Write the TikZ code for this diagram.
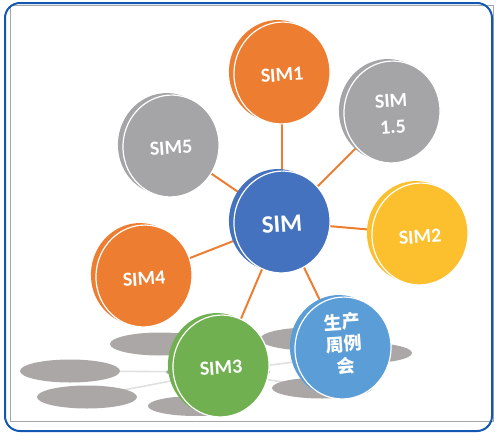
\documentclass[tikz,border=0pt]{standalone}
\usepackage{fontspec}
\setmainfont{Carlito}
\newfontfamily\cjk{Noto Sans CJK SC}
\definecolor{corange}{RGB}{237,125,49}
\definecolor{cgray}{RGB}{165,165,167}
\definecolor{cblue}{RGB}{68,114,190}
\definecolor{cyellow}{RGB}{252,191,45}
\definecolor{cgreen}{RGB}{112,176,80}
\definecolor{clblue}{RGB}{91,157,214}
\definecolor{cshadow}{RGB}{172,167,167}
\definecolor{cframe}{RGB}{18,88,178}
\definecolor{clink}{RGB}{224,224,224}
\tikzset{
  conn/.style={draw=corange, line width=2pt},
  slink/.style={draw=clink, line width=1.6pt},
  shad/.style={fill=cshadow},
  lbl/.style={text=white, font=\bfseries\fontsize{20}{22}\selectfont, align=center, rotate=4},
}
\newcommand{\coin}[3]{%
  \fill[#3] ($(#1)+(-5,-2)$) ellipse [x radius=48, y radius=51, rotate=-8];
  \filldraw[fill=#3, draw=white, line width=1.2pt] (#1) ellipse [x radius=48, y radius=51, rotate=-8];
}
\usetikzlibrary{calc}
\begin{document}
\begin{tikzpicture}[x=1pt,y=-1pt]
\useasboundingbox (0,0) rectangle (500,439);
% frame
\draw[draw=gray!70, line width=0.9pt] (10.5,5) rectangle (493,421);
\draw[draw=cframe, line width=2pt, rounded corners=15pt] (5,3) rectangle (492,431);
% coordinates
\coordinate (c) at (282,222);
\coordinate (c1) at (282,73);
\coordinate (c15) at (392,112);
\coordinate (c5) at (171,146);
\coordinate (c2) at (420,234);
\coordinate (c4) at (144,276);
\coordinate (c3) at (221,366);
\coordinate (c6) at (343,348);
% shadow reflections
\coordinate (e1) at (160,344);
\coordinate (e2) at (70,371);
\coordinate (e3) at (87,397);
\coordinate (e4) at (196,406);
\coordinate (e5) at (218,372);
\coordinate (e6) at (310,339);
\coordinate (e7) at (362,353);
\coordinate (e8) at (322,388);
\draw[slink] (e2) -- (e5);
\draw[slink] (e3) -- (e5);
\draw[slink] (e5) -- (e7);
\draw[slink] (e5) -- (e8);
\fill[shad] (e1) ellipse [x radius=50, y radius=11.5];
\fill[shad] (e2) ellipse [x radius=50, y radius=11.5];
\fill[shad] (e3) ellipse [x radius=50, y radius=11.5];
\fill[shad] (e4) ellipse [x radius=48, y radius=10];
\fill[shad] (e5) ellipse [x radius=52, y radius=7];
\fill[shad] (e6) ellipse [x radius=50, y radius=11.5];
\fill[shad] (e7) ellipse [x radius=50, y radius=10.5];
\fill[shad] (e8) ellipse [x radius=50, y radius=10.5];
% connectors
\foreach \t in {c1,c15,c5,c2,c4,c3,c6} \draw[conn] (c) -- (\t);
% coins
\coin{c1}{}{corange}
\coin{c15}{}{cgray}
\coin{c5}{}{cgray}
\coin{c2}{}{cyellow}
\coin{c4}{}{corange}
\coin{c3}{}{cgreen}
\coin{c6}{}{clblue}
\coin{c}{}{cblue}
% labels
\node[lbl] (sim1) at (282,75) {SIM1};
\node[lbl] (sim15) at (392,114) {SIM\\[4pt]1.5};
\node[lbl] (sim5) at (171,148) {SIM5};
\node[lbl] (sim2) at (420,237) {SIM2};
\node[lbl] (sim4) at (144,279) {SIM4};
\node[lbl] (sim3) at (221,368) {SIM3};
\node[lbl, font=\cjk\bfseries\fontsize{18}{22}\selectfont] (meet) at (344,344) {生产\\周例\\会};
\node[lbl, font=\bfseries\fontsize{25}{27}\selectfont] (sim) at (282,224) {SIM};
\end{tikzpicture}
\end{document}
